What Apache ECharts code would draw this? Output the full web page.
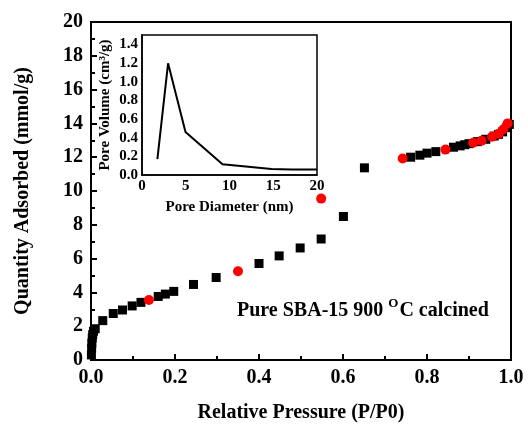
<!DOCTYPE html>
<html>
<head>
<meta charset="utf-8">
<script src="https://cdn.jsdelivr.net/npm/echarts@6/dist/echarts.min.js"></script>
<style>html,body{margin:0;padding:0;background:#fff}#c{width:528px;height:428px}</style>
</head>
<body>
<div id="c"></div>
<script>
// Adsorption branch (black squares): [P/P0, mmol/g]
const adsX = [0.001,0.0015,0.002,0.003,0.004,0.006,0.01,0.028,0.053,0.075,0.098,0.119,0.16,0.177,0.197,0.244,0.298,0.4,0.448,0.498,0.548,0.601,0.651,0.761,0.783,0.80,0.821,0.863,0.879,0.89,0.90,0.92,0.94,0.96,0.97,0.98,0.99,0.996];
const adsY = [0.3,0.7,1.0,1.3,1.5,1.7,1.85,2.33,2.75,2.96,3.2,3.41,3.76,3.9,4.06,4.47,4.88,5.71,6.16,6.63,7.16,8.49,11.37,12.0,12.12,12.24,12.33,12.59,12.67,12.74,12.8,12.92,13.06,13.25,13.35,13.5,13.75,13.94];
// Desorption branch (red circles)
const desX = [0.138,0.35,0.548,0.742,0.844,0.91,0.93,0.955,0.971,0.982,0.992];
const desY = [3.55,5.25,9.55,11.92,12.45,12.86,12.98,13.21,13.39,13.65,14.0];
// Inset: pore size distribution
const poreD = [1.76,2.98,4.97,9.2,14.8,17.1,20];
const poreV = [0.17,1.197,0.46,0.115,0.064,0.06,0.06];
const xTicks = ['0.0','0.2','0.4','0.6','0.8','1.0'];

const FONT = 'Liberation Serif';
const zip = (a,b) => a.map((v,i)=>[v,b[i]]);
const chart = echarts.init(document.getElementById('c'), null, {renderer:'canvas'});
const lbl = (size) => ({color:'#000', fontFamily:FONT, fontWeight:'bold', fontSize:size});

chart.setOption({
  animation:false,
  backgroundColor:'#fff',
  grid:[
    {left:91, right:17, top:22, bottom:66, show:true, borderColor:'#000', borderWidth:2, backgroundColor:'transparent'},
    {left:142, right:211, top:35, bottom:253, show:true, borderColor:'#000', borderWidth:1.5, backgroundColor:'#fff'}
  ],
  xAxis:[
    {gridIndex:0, type:'value', min:0, max:1, interval:0.2,
     name:'Relative Pressure (P/P0)', nameLocation:'middle', nameGap:43,
     nameTextStyle:lbl(20),
     axisLine:{show:true, lineStyle:{color:'#000', width:2}},
     axisTick:{show:true, inside:true, length:6, lineStyle:{color:'#000', width:2}},
     minorTick:{show:true, splitNumber:2, length:4, lineStyle:{color:'#000', width:2}},
     splitLine:{show:false},
     axisLabel:{...lbl(20), margin:8, formatter:(v)=>xTicks[Math.round(v/0.2)]}},
    {gridIndex:1, type:'value', min:0, max:20, interval:5,
     name:'Pore Diameter (nm)', nameLocation:'middle', nameGap:25,
     nameTextStyle:lbl(15),
     axisLine:{show:true, lineStyle:{color:'#000', width:1.5}},
     axisTick:{show:false},
     splitLine:{show:false},
     axisLabel:{...lbl(15), margin:4}}
  ],
  yAxis:[
    {gridIndex:0, type:'value', min:0, max:20, interval:2,
     name:'Quantity Adsorbed (mmol/g)', nameLocation:'middle', nameGap:58,
     nameTextStyle:lbl(20),
     axisLine:{show:true, lineStyle:{color:'#000', width:2}},
     axisTick:{show:true, inside:true, length:6, lineStyle:{color:'#000', width:2}},
     minorTick:{show:true, splitNumber:2, length:4, lineStyle:{color:'#000', width:2}},
     splitLine:{show:false},
     axisLabel:{...lbl(20), margin:8}},
    {gridIndex:1, type:'value', min:0, max:1.5, interval:0.2,
     name:'Pore Volume (cm³/g)', nameLocation:'middle', nameGap:29,
     nameTextStyle:lbl(15),
     axisLine:{show:true, lineStyle:{color:'#000', width:1.5}},
     axisTick:{show:false},
     splitLine:{show:false},
     axisLabel:{...lbl(15), margin:4, formatter:(v)=> v>1.45 ? '' : v.toFixed(1)}}
  ],
  series:[
    {type:'scatter', xAxisIndex:0, yAxisIndex:0, data:zip(adsX,adsY), symbol:'rect', symbolSize:9, itemStyle:{color:'#000', opacity:1}, z:2},
    {type:'scatter', xAxisIndex:0, yAxisIndex:0, data:zip(desX,desY), symbol:'circle', symbolSize:10, itemStyle:{color:'#ff0000', opacity:1}, z:3},
    {type:'line', xAxisIndex:1, yAxisIndex:1, data:zip(poreD,poreV), symbol:'none', lineStyle:{color:'#000', width:2}, z:5}
  ],
  graphic:[
    {type:'text', left:237, top:297, z:10,
     style:{text:'{a|Pure SBA-15 900 }{s|O}{a|C calcined}',
       rich:{a:{fontFamily:FONT, fontWeight:'bold', fontSize:20, fill:'#000', verticalAlign:'bottom', lineHeight:24},
             s:{fontFamily:FONT, fontWeight:'bold', fontSize:13, fill:'#000', verticalAlign:'top', lineHeight:24, padding:[0,1,0,0]}}}}
  ]
});
</script>
</body>
</html>
